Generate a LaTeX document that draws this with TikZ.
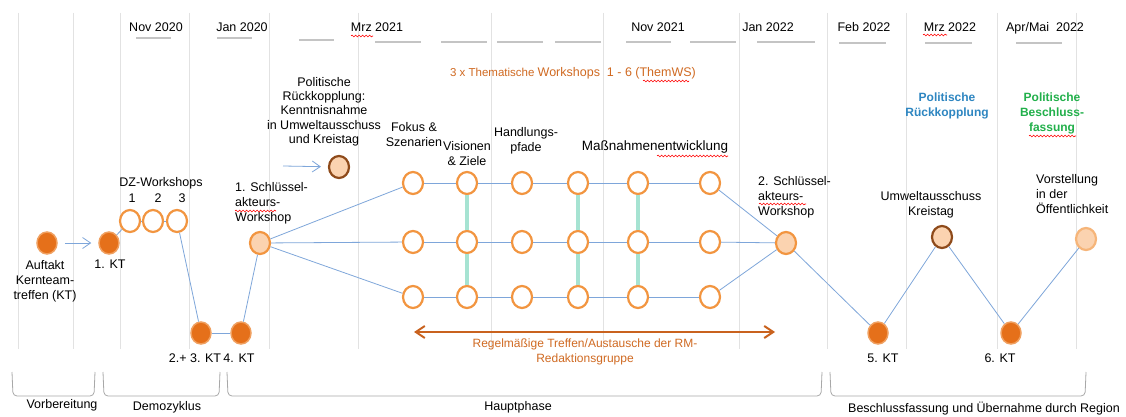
\documentclass[tikz,border=0pt]{standalone}
\usepackage{fontspec}
\setmainfont{Liberation Sans}
\usetikzlibrary{arrows.meta,shapes.geometric,decorations.pathmorphing}
\definecolor{gridc}{HTML}{E2E2E2}
\definecolor{barc}{HTML}{C4C4C4}
\definecolor{linec}{HTML}{7EA6DA}
\definecolor{orl}{HTML}{F29540}
\definecolor{darkor}{HTML}{E5701A}
\definecolor{darkorb}{HTML}{F0A060}
\definecolor{peach}{HTML}{FBD3B0}
\definecolor{brownc}{HTML}{8E4A1A}
\definecolor{mint}{HTML}{A6E3D2}
\definecolor{ortext}{HTML}{D06A22}
\definecolor{arrc}{HTML}{C9621E}
\definecolor{bluet}{HTML}{2E86C1}
\definecolor{greent}{HTML}{22B04B}
\definecolor{brk}{HTML}{A8A8A8}
\tikzset{
  bnode/.style={ellipse, minimum width=20pt, minimum height=22pt, inner sep=0pt},
  filledkt/.style={bnode, fill=darkor, draw=darkorb, line width=1.5pt},
  hollow/.style={bnode, fill=white, draw=orl, line width=2.2pt},
  peachn/.style={bnode, fill=peach, draw=orl, line width=2.2pt},
  brownn/.style={bnode, fill=peach, draw=brownc, line width=2.2pt},
  conn/.style={draw=linec, line width=0.8pt},
  mintl/.style={draw=mint, line width=4.5pt},
  lbl/.style={font=\fontsize{12.5}{15}\selectfont, inner sep=0pt, align=center},
  lbll/.style={font=\fontsize{12.5}{15}\selectfont, inner sep=0pt, align=left, anchor=west},
  gridl/.style={draw=gridc, line width=1pt},
  bar/.style={draw=barc, line width=1.5pt},
  brack/.style={draw=brk, line width=0.8pt, rounded corners=4pt},
  wavy/.style={draw=red, line width=0.6pt, decorate, decoration={snake, segment length=3.5pt, amplitude=0.9pt}},
  barb/.style={-{Straight Barb[length=8pt,width=11pt]}}
}
\begin{document}
\begin{tikzpicture}[x=1pt,y=-1pt]
\useasboundingbox (0,0) rectangle (1126,417);
\fill[white] (0,0) rectangle (1126,417);
% grid lines
\foreach \gx in {18,73,120,189,269,358,491,603,739,827,906,997,1076}
  \draw[gridl] (\gx,13) -- (\gx,349);
% short bars
\foreach \a/\b/\c in {136/171/38,217/252/38,299/334/40,375/421/42,441/487/42,497/543/42,555/601/42,626/671/42,690/736/42,757/815/42,839/886/43,925/972/43,1016/1062/43}
  \draw[bar] (\a,\c) -- (\b,\c);
% dates
\node[lbl] (d1) at (156,27) {Nov 2020};
\node[lbl] (d2) at (242,27) {Jan 2020};
\node[lbl] (d3) at (377,27) {Mrz 2021};
\node[lbl] (d4) at (658,27) {Nov 2021};
\node[lbl] (d5) at (768,27) {Jan 2022};
\node[lbl] (d6) at (864,27) {Feb 2022};
\node[lbl] (d7) at (950,27) {Mrz 2022};
\node[lbl] (d8) at (1045,28) {Apr/Mai\ \ 2022};
% title
\node[inner sep=0pt, text=ortext] (title) at (573,73) {{\fontsize{11.5}{13}\selectfont 3 x Thematische }{\fontsize{12.5}{15}\selectfont Workshops\ \ 1 - 6 (ThemWS)}};
% politische rueckkopplung text
\node[lbl, font=\fontsize{12.5}{14.3}\selectfont] (prt) at (324,111.5) {Politische\\Rückkopplung:\\Kenntnisnahme\\in Umweltausschuss\\und Kreistag};
\node[lbl, font=\bfseries\fontsize{12}{15}\selectfont, text=bluet] (prb) at (947,105.5) {Politische\\Rückkopplung};
\node[lbl, font=\bfseries\fontsize{12}{15}\selectfont, text=greent] (pbg) at (1052,113) {Politische\\Beschluss-\\fassung};
% nodes
\node[filledkt] (auftakt) at (47,243) {};
\node[filledkt] (kt1) at (109,243) {};
\node[hollow] (dz1) at (130,221) {};
\node[hollow] (dz2) at (153,221) {};
\node[hollow] (dz3) at (177,221) {};
\node[filledkt] (kt23) at (201,333) {};
\node[filledkt] (kt4) at (241,333) {};
\node[peachn] (sk1) at (260,243) {};
\node[brownn] (pr) at (339,167) {};
\foreach \c/\cx in {1/413,2/467,3/522,4/578,5/638,6/710}
  \foreach \r/\ry in {1/183,2/242,3/297}
    \node[hollow] (g\r\c) at (\cx,\ry) {};
\node[peachn] (sk2) at (786,243) {};
\node[filledkt] (kt5) at (878,333) {};
\node[brownn] (uw) at (942,237) {};
\node[filledkt] (kt6) at (1011,333) {};
\node[peachn, draw=orl!70] (vor) at (1086,239) {};
% labels
\node[lbl] (auftaktl) at (45,281.5) {Auftakt\\Kernteam-\\treffen (KT)};
\node[lbl] (kt1l) at (110,264) {1. KT};
\node[lbl] (dzl) at (161,183) {DZ-Workshops};
\node[lbl] (dzn1) at (132,198) {1};
\node[lbl] (dzn2) at (158,198) {2};
\node[lbl] (dzn3) at (182,198) {3};
\node[lbl] (kt23l) at (195,358) {2.+ 3. KT};
\node[lbl] (kt4l) at (239,358) {4. KT};
\node[lbll] (sk1l) at (235,203.5) {1. Schlüssel-\\akteurs-\\Workshop};
\node[lbl] (fok) at (414,135) {Fokus \&\\Szenarien};
\node[lbl] (vis) at (467,153.5) {Visionen\\\& Ziele};
\node[lbl] (han) at (526,140.5) {Handlungs-\\pfade};
\node[lbl, font=\fontsize{13.5}{15}\selectfont] (mas) at (655,147) {Maßnahmenentwicklung};
\node[lbll] (sk2l) at (758,197) {2. Schlüssel-\\akteurs-\\Workshop};
\node[lbl] (uwl) at (931,205) {Umweltausschuss\\Kreistag};
\node[lbll] (vorl) at (1036,194.5) {Vorstellung\\in der\\Öffentlichkeit};
\node[lbl] (kt5l) at (883,358) {5. KT};
\node[lbl] (kt6l) at (1000,358) {6. KT};
\node[lbl, font=\fontsize{12}{15}\selectfont, text=ortext] (regl) at (585,351.5) {Regelmäßige Treffen/Austausche der RM-\\Redaktionsgruppe};
% connectors
\draw[conn, barb, shorten <=7pt, shorten >=7pt] (auftakt) -- (kt1);
\coordinate (prs) at (283,166);
\draw[conn, barb, shorten >=7pt] (prs) -- (pr);
\draw[conn] (kt1) -- (dz1);
\draw[conn] (dz1) -- (dz2);
\draw[conn] (dz2) -- (dz3);
\draw[conn] (dz3) -- (kt23);
\draw[conn] (kt23) -- (kt4);
\draw[conn] (kt4) -- (sk1);
\draw[conn] (sk1) -- (g11);
\draw[conn] (sk1) -- (g21);
\draw[conn] (sk1) -- (g31);
\foreach \r in {1,2,3}{
  \draw[conn] (g\r1) -- (g\r2);
  \draw[conn] (g\r2) -- (g\r3);
  \draw[conn] (g\r3) -- (g\r4);
  \draw[conn] (g\r4) -- (g\r5);
  \draw[conn] (g\r5) -- (g\r6);
  \draw[conn] (g\r6) -- (sk2);
}
\draw[conn] (sk2) -- (kt5);
\draw[conn] (kt5) -- (uw);
\draw[conn] (uw) -- (kt6);
\draw[conn] (kt6) -- (vor);
\foreach \c in {2,4,5}{
  \draw[mintl] (g1\c) -- (g2\c);
  \draw[mintl] (g2\c) -- (g3\c);
}
% regelmaessige arrow
\coordinate (ra) at (414,332);
\coordinate (rb) at (775,332);
\draw[draw=arrc, line width=2pt, {Straight Barb[length=9pt,width=12pt]}-{Straight Barb[length=9pt,width=12pt]}] (ra) -- (rb);
% brackets
\draw[brack] (12,372) -- (13,396) -- (94,396) -- (95,372);
\draw[brack] (103,372) -- (104,396) -- (219,396) -- (220,372);
\draw[brack] (227,372) -- (228,396) -- (821,396) -- (822,372);
\draw[brack] (830,372) -- (831,396) -- (1085,396) -- (1086,372);
\node[lbl] (vbl) at (62,405) {Vorbereitung};
\node[lbl] (dzkl) at (167,407) {Demozyklus};
\node[lbl] (hpl) at (518,407) {Hauptphase};
\node[lbl] (bfl) at (984,409) {Beschlussfassung und Übernahme durch Region};
% spell-check marks
\draw[wavy] (351,36) -- (373,36);
\draw[wavy] (923,35) -- (947,35);
\draw[wavy] (643,81) -- (689,81);
\draw[wavy] (235,211) -- (276,211);
\draw[wavy] (759,204) -- (806,204);
\draw[wavy] (657,156) -- (728,156);
\draw[wavy] (1029,136) -- (1076,136);
\end{tikzpicture}
\end{document}
